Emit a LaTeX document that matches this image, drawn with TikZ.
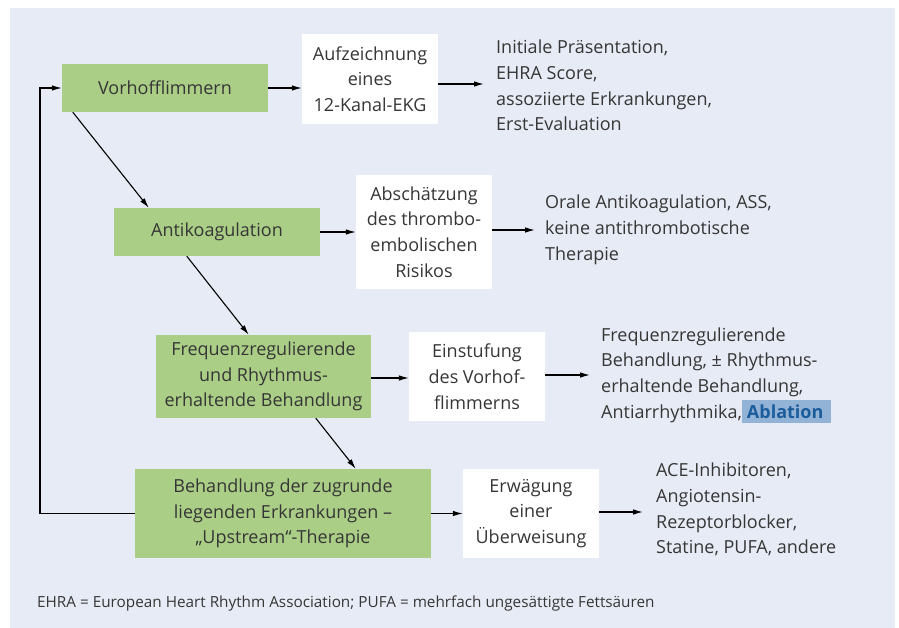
\documentclass[tikz,border=0pt]{standalone}
\usepackage{fontspec}
\setmainfont{Open Sans}
\usetikzlibrary{arrows.meta}
\definecolor{bgc}{HTML}{E7EBF5}
\definecolor{grn}{HTML}{AACE86}
\definecolor{txt}{HTML}{363636}
\definecolor{hl}{HTML}{93B3D6}
\definecolor{abl}{HTML}{1B5C9B}
\newcommand{\mainfs}{\fontsize{18}{25.7}\selectfont}
\newcommand{\notefs}{\fontsize{15.3}{18}\selectfont}
\begin{document}
\begin{tikzpicture}[x=1pt,y=-1pt,
  every node/.style={text=txt, font=\mainfs},
  gbox/.style={fill=grn, inner sep=0pt, align=center},
  wbox/.style={fill=white, inner sep=0pt, align=center},
  lbl/.style={inner sep=0pt, align=left, anchor=west},
  arr/.style={draw=black, line width=1.1pt, -{Latex[length=10pt,width=5.5pt]}}]
\useasboundingbox (0,0) rectangle (899,628);
\fill[bgc] (10,8) rectangle (895,627.5);

% row 1
\node[gbox, minimum width=206pt, minimum height=48pt] (vorhof) at (165,88) {Vorhofflimmern};
\node[wbox, minimum width=136pt, minimum height=90pt] (aufz) at (370,79) {Aufzeichnung\\eines\\12-Kanal-EKG};
\node[lbl] (t1) at (496,85.5) {Initiale Präsentation,\\EHRA Score,\\assoziierte Erkrankungen,\\Erst-Evaluation};

% row 2
\node[gbox, minimum width=206pt, minimum height=48pt] (antiko) at (217,232) {Antikoagulation};
\node[wbox, minimum width=136pt, minimum height=114pt] (absch) at (424,232) {Abschätzung\\des thrombo-\\embolischen\\Risikos};
\node[lbl] (t2) at (545,230) {Orale Antikoagulation, ASS,\\keine antithrombotische\\Therapie};

% row 3
\node[gbox, minimum width=215pt, minimum height=83pt] (freq) at (263.5,376.5) {Frequenzregulierende\\und Rhythmus-\\erhaltende Behandlung};
\node[wbox, minimum width=136pt, minimum height=89pt] (einst) at (477,376.5) {Einstufung\\des Vorhof-\\flimmerns};
\node[lbl] (t3) at (601,375.5) {Frequenzregulierende\\Behandlung, ± Rhythmus-\\erhaltende Behandlung,\\Antiarrhythmika,%
{\fboxsep=0pt\colorbox{hl}{\rule[-5pt]{0pt}{23pt}\hspace{5pt}\textbf{\color{abl}Ablation}\hspace{8pt}}}};

% row 4
\node[gbox, minimum width=296pt, minimum height=89pt] (beh) at (283,513.5) {Behandlung der zugrunde\\liegenden Erkrankungen –\\„Upstream“-Therapie};
\node[wbox, minimum width=136pt, minimum height=89pt] (erw) at (531,513.5) {Erwägung\\einer\\Überweisung};
\node[lbl] (t4) at (656,509.5) {ACE-Inhibitoren,\\Angiotensin-\\Rezeptorblocker,\\Statine, PUFA, andere};

% footnote
\node[lbl, font=\notefs] (note) at (37,603.5) {EHRA = European Heart Rhythm Association; PUFA = mehrfach ungesättigte Fettsäuren};

% horizontal arrows
\draw[arr] (vorhof.east) -- (vorhof.east -| aufz.west);
\draw[arr] (aufz.east |- 0,84) -- ([xshift=-12pt]t1.west |- 0,84);
\draw[arr] (antiko.east) -- (antiko.east -| absch.west);
\draw[arr] (absch.east |- 0,230) -- ([xshift=-10pt]t2.west |- 0,230);
\draw[arr] (freq.east |- 0,378) -- (einst.west |- 0,378);
\draw[arr] (einst.east |- 0,375) -- ([xshift=-11pt]t3.west |- 0,375);
\draw[arr] (beh.east) -- (beh.east -| erw.west);
\draw[arr] (erw.east |- 0,512) -- ([xshift=-13pt]t4.west |- 0,512);

% diagonal arrows
\draw[arr] ([xshift=11pt]vorhof.south west) -- ([xshift=35pt]antiko.north west);
\draw[arr] ([xshift=73pt]antiko.south west) -- ([xshift=93pt]freq.north west);
\draw[arr] ([xshift=160pt]freq.south west) -- ([xshift=221pt]beh.north west);

% feedback loop
\coordinate (loop) at (40,88);
\draw[arr] (beh.west) -| (loop) -- (vorhof.west);
\end{tikzpicture}
\end{document}
